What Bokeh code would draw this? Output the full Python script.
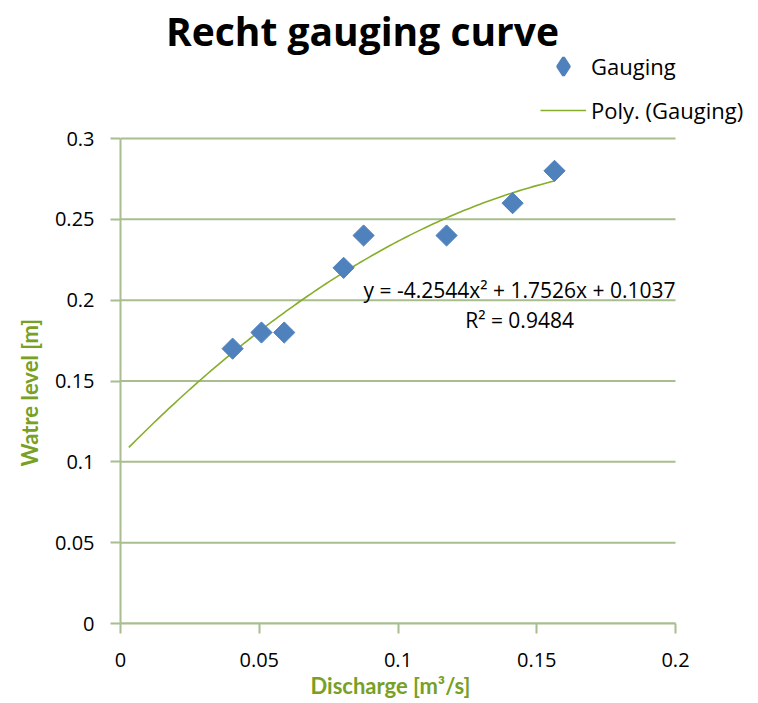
import numpy as np
from bokeh.plotting import figure
from bokeh.models import (Range1d, Label, Legend, LegendItem, FixedTicker, ColumnDataSource,
                          NumeralTickFormatter, Title)
from bokeh.embed import file_html
from bokeh.resources import INLINE

# ---- data ----
discharge = [0.0404, 0.0508, 0.0590, 0.0804, 0.0876, 0.1175, 0.1413, 0.1564]
water_level = [0.17, 0.18, 0.18, 0.22, 0.24, 0.24, 0.26, 0.28]
poly_coef = [-4.2544, 1.7526, 0.1037]   # trendline shown on the chart
fit_range = [0.003, 0.1564]
x_ticks = [0, 0.05, 0.1, 0.15, 0.2]
y_ticks = [0, 0.05, 0.1, 0.15, 0.2, 0.25, 0.3]
x_axis_max, y_axis_max = 0.2, 0.3
title_text = "Recht gauging curve"
x_label = "Discharge [m³/s]"
y_label = "Watre level [m]"
eq_text = "y = -4.2544x² + 1.7526x + 0.1037"
r2_text = "R² = 0.9484"

GRID = "#A8BE8E"
GREEN = "#77A024"
TREND = "#86AE2B"
BLUE = "#4F81BD"
FONT = "Lato"

W, H = 758, 703
LEFT, BOTTOM = 120, 80
PLOT_W, PLOT_H = 555, 485          # size of the 0..0.2 x 0..0.3 area in pixels
FRAME_W, FRAME_H = W - LEFT, H - BOTTOM

fit_x = np.linspace(fit_range[0], fit_range[1], 120)
fit_y = np.polyval(poly_coef, fit_x)
src = ColumnDataSource(dict(x=discharge, y=water_level))
fit_src = ColumnDataSource(dict(x=fit_x, y=fit_y))
grid_src = ColumnDataSource(dict(x0=[0] * len(y_ticks), x1=[x_axis_max] * len(y_ticks),
                                 y=y_ticks))

p = figure(width=W, height=H, output_backend="svg", toolbar_location=None,
           x_range=Range1d(0, x_axis_max * FRAME_W / PLOT_W),
           y_range=Range1d(0, y_axis_max * FRAME_H / PLOT_H),
           min_border_left=LEFT, min_border_right=0, min_border_top=0, min_border_bottom=BOTTOM)
p.outline_line_color = None
p.background_fill_color = "white"
p.border_fill_color = "white"
p.grid.visible = False

# horizontal gridlines, limited to the axis extent
p.segment(x0="x0", x1="x1", y0="y", y1="y", source=grid_src, line_color=GRID, line_width=2)

for ax in (p.xaxis[0], p.yaxis[0]):
    ax.axis_line_color = GRID
    ax.axis_line_width = 2
    ax.major_tick_line_color = GRID
    ax.major_tick_line_width = 2
    ax.major_tick_out = 10
    ax.major_tick_in = 0
    ax.minor_tick_line_color = None
    ax.major_label_text_font = "Open Sans"
    ax.major_label_text_font_size = "20px"
    ax.major_label_text_color = "black"
    ax.formatter = NumeralTickFormatter(format="0.[00]")

p.xaxis.ticker = FixedTicker(ticks=x_ticks)
p.yaxis.ticker = FixedTicker(ticks=y_ticks)
p.xaxis.bounds = (0, x_axis_max)
p.yaxis.bounds = (0, y_axis_max)
p.xaxis.major_label_standoff = 19
p.yaxis.major_label_standoff = 16

# axis titles as side-panel titles, so they can be placed along the axis extent
p.add_layout(Title(text=y_label, align="left", offset=157, standoff=18,
                   text_font=FONT, text_font_style="bold", text_font_size="22px",
                   text_color=GREEN), "left")
p.add_layout(Title(text=x_label, align="left", offset=190, standoff=0,
                   text_font=FONT, text_font_style="bold", text_font_size="22px",
                   text_color=GREEN), "below")

r_line = p.line("x", "y", source=fit_src, line_color=TREND, line_width=1.6)
r_pts = p.scatter("x", "y", source=src, marker="square", angle=np.pi / 4, size=15,
                  fill_color=BLUE, line_color=BLUE)
# hidden twin of the series, only used for the diamond swatch in the legend
r_pts_key = p.scatter("x", "y", source=src, marker="diamond", size=15,
                      fill_color=BLUE, line_color=BLUE, line_width=3, visible=False)

legend = Legend(items=[LegendItem(label="Gauging", renderers=[r_pts_key]),
                       LegendItem(label="Poly. (Gauging)", renderers=[r_line])],
                location=(420, 491), glyph_width=46, glyph_height=44, label_height=20,
                spacing=0, padding=0, margin=0, label_standoff=5,
                border_line_color=None, background_fill_alpha=0, inactive_fill_alpha=0,
                label_text_font="Open Sans", label_text_font_size="22px",
                label_text_color="black")
p.add_layout(legend, "center")

p.add_layout(Label(x=0.0872, y=0.3667, text=title_text, text_align="center", text_baseline="middle",
                   text_font="Open Sans", text_font_style="bold", text_font_size="39px",
                   text_color="black"))
p.add_layout(Label(x=0.1438, y=0.2065, text=eq_text, text_align="center", text_baseline="alphabetic",
                   text_font="Open Sans", text_font_size="21px", text_color="black"))
p.add_layout(Label(x=0.1438, y=0.1880, text=r2_text, text_align="center", text_baseline="alphabetic",
                   text_font="Open Sans", text_font_size="21px", text_color="black"))

open("out.html", "w").write(file_html(p, INLINE))
